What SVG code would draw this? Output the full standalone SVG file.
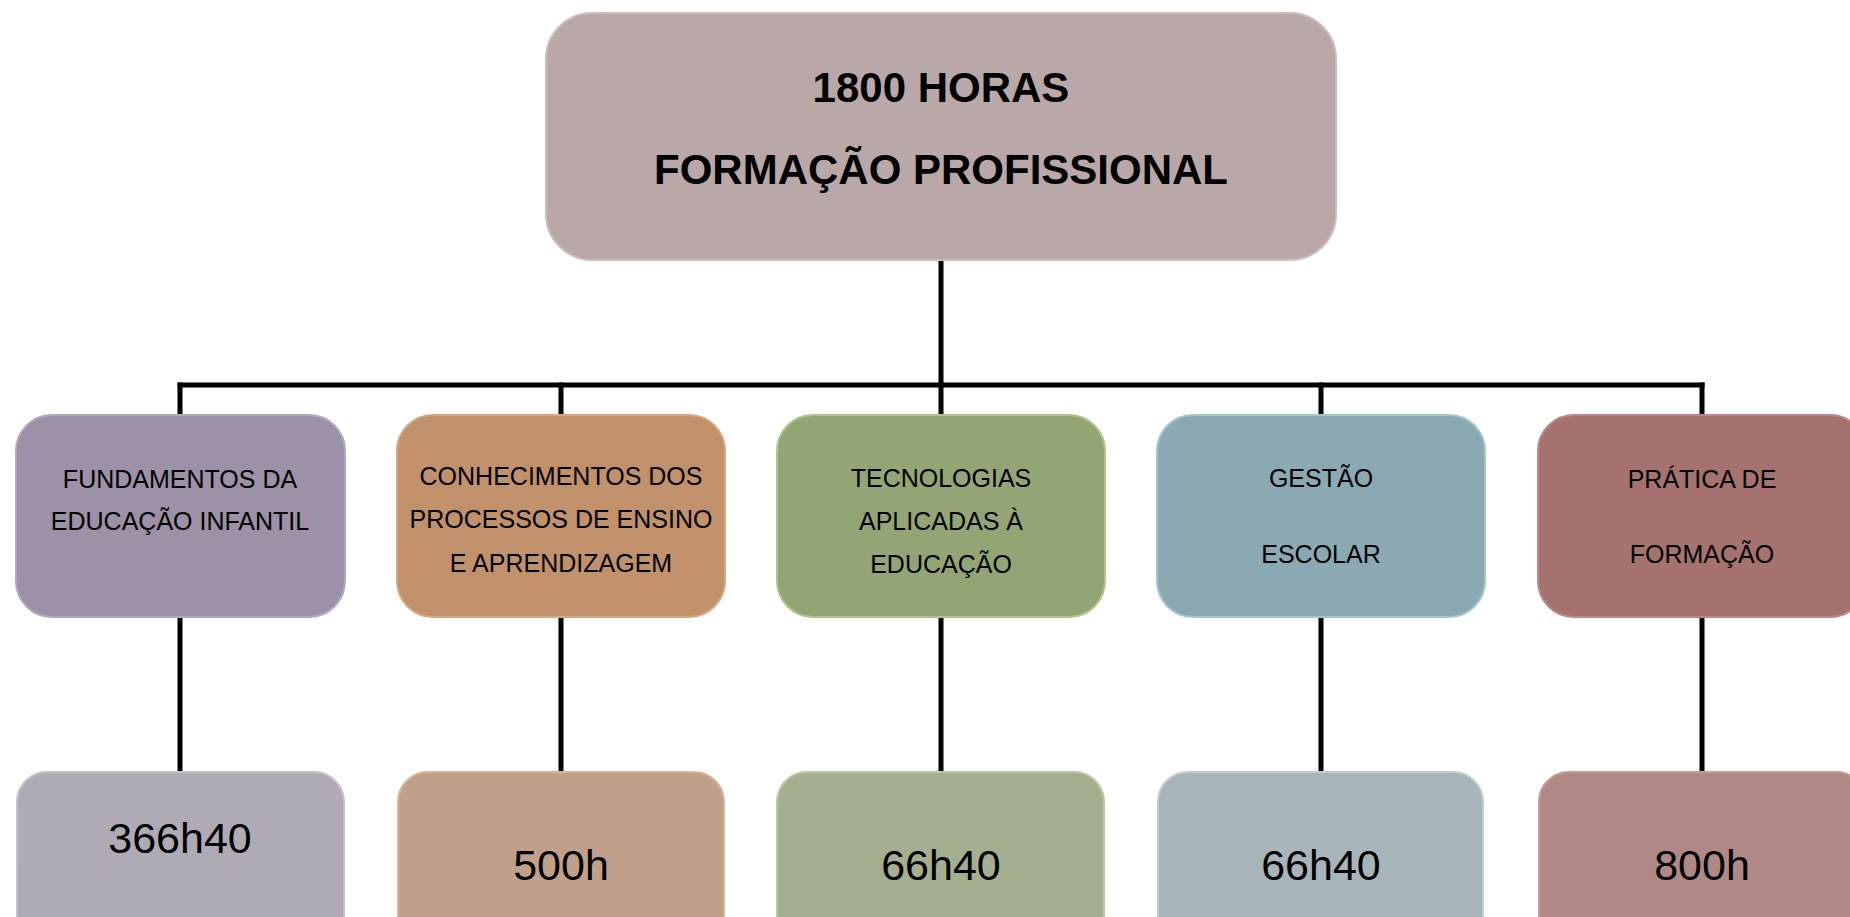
<svg xmlns="http://www.w3.org/2000/svg" width="1850" height="917" viewBox="0 0 1850 917">
<style>
.conn{stroke:#000;stroke-width:5;fill:none;stroke-linecap:square}
.title{font-family:"Liberation Sans",Arial,sans-serif;font-weight:bold;font-size:42px;fill:#000;text-anchor:middle}
.lbl{font-family:"Liberation Sans",Arial,sans-serif;font-size:25px;fill:#000;text-anchor:middle}
.hrs{font-family:"Liberation Sans",Arial,sans-serif;font-size:43px;fill:#000;text-anchor:middle}
.box{stroke-width:2}
</style>
<rect width="1850" height="917" fill="#fff"/>
<g id="connectors">
<line class="conn" x1="941" y1="260" x2="941" y2="385"/>
<line class="conn" x1="180" y1="385" x2="1702" y2="385"/>
<line class="conn" x1="180" y1="385" x2="180" y2="415"/>
<line class="conn" x1="561" y1="385" x2="561" y2="415"/>
<line class="conn" x1="941" y1="385" x2="941" y2="415"/>
<line class="conn" x1="1321" y1="385" x2="1321" y2="415"/>
<line class="conn" x1="1702" y1="385" x2="1702" y2="415"/>
<line class="conn" x1="180" y1="617" x2="180" y2="772"/>
<line class="conn" x1="561" y1="617" x2="561" y2="772"/>
<line class="conn" x1="941" y1="617" x2="941" y2="772"/>
<line class="conn" x1="1321" y1="617" x2="1321" y2="772"/>
<line class="conn" x1="1702" y1="617" x2="1702" y2="772"/>
</g>
<g id="top">
<rect class="box" x="546" y="13" width="790" height="247" rx="46" fill="#BAA8A8" stroke="#CDBDBD"/>
<text class="title" x="941" y="102">1800 HORAS</text>
<text class="title" x="941" y="184">FORMAÇÃO PROFISSIONAL</text>
</g>
<g id="fundamentos">
<rect class="box" x="16" y="415" width="329" height="202" rx="36" fill="#9C91A6" stroke="#B2A7BC"/>
<text class="lbl" x="180" y="488">FUNDAMENTOS DA</text>
<text class="lbl" x="180" y="530">EDUCAÇÃO INFANTIL</text>
</g>
<g id="conhecimentos">
<rect class="box" x="397" y="415" width="328" height="202" rx="36" fill="#C0916B" stroke="#D8A67E"/>
<text class="lbl" x="561" y="485">CONHECIMENTOS DOS</text>
<text class="lbl" x="561" y="528">PROCESSOS DE ENSINO</text>
<text class="lbl" x="561" y="572">E APRENDIZAGEM</text>
</g>
<g id="tecnologias">
<rect class="box" x="777" y="415" width="328" height="202" rx="36" fill="#93A574" stroke="#AFC48A"/>
<text class="lbl" x="941" y="487">TECNOLOGIAS</text>
<text class="lbl" x="941" y="530">APLICADAS À</text>
<text class="lbl" x="941" y="573">EDUCAÇÃO</text>
</g>
<g id="gestao">
<rect class="box" x="1157" y="415" width="328" height="202" rx="36" fill="#8AA9B3" stroke="#A3C5CF"/>
<text class="lbl" x="1321" y="487">GESTÃO</text>
<text class="lbl" x="1321" y="563">ESCOLAR</text>
</g>
<g id="pratica">
<rect class="box" x="1538" y="415" width="328" height="202" rx="36" fill="#A6726F" stroke="#BC8784"/>
<text class="lbl" x="1702" y="488">PRÁTICA DE</text>
<text class="lbl" x="1702" y="563">FORMAÇÃO</text>
</g>
<g id="h1">
<rect class="box" x="17" y="772" width="327" height="185" rx="30" fill="#B0AAB5" stroke="#C6C0CB"/>
<text class="hrs" x="180" y="853">366h40</text>
</g>
<g id="h2">
<rect class="box" x="398" y="772" width="326" height="185" rx="30" fill="#C0A088" stroke="#D6B59C"/>
<text class="hrs" x="561" y="880">500h</text>
</g>
<g id="h3">
<rect class="box" x="777" y="772" width="327" height="185" rx="30" fill="#A3AF8F" stroke="#BAC7A3"/>
<text class="hrs" x="941" y="880">66h40</text>
</g>
<g id="h4">
<rect class="box" x="1158" y="772" width="325" height="185" rx="30" fill="#A7B5BA" stroke="#BDCDD2"/>
<text class="hrs" x="1321" y="880">66h40</text>
</g>
<g id="h5">
<rect class="box" x="1539" y="772" width="327" height="185" rx="30" fill="#B08886" stroke="#C49C9A"/>
<text class="hrs" x="1702" y="880">800h</text>
</g>
</svg>
